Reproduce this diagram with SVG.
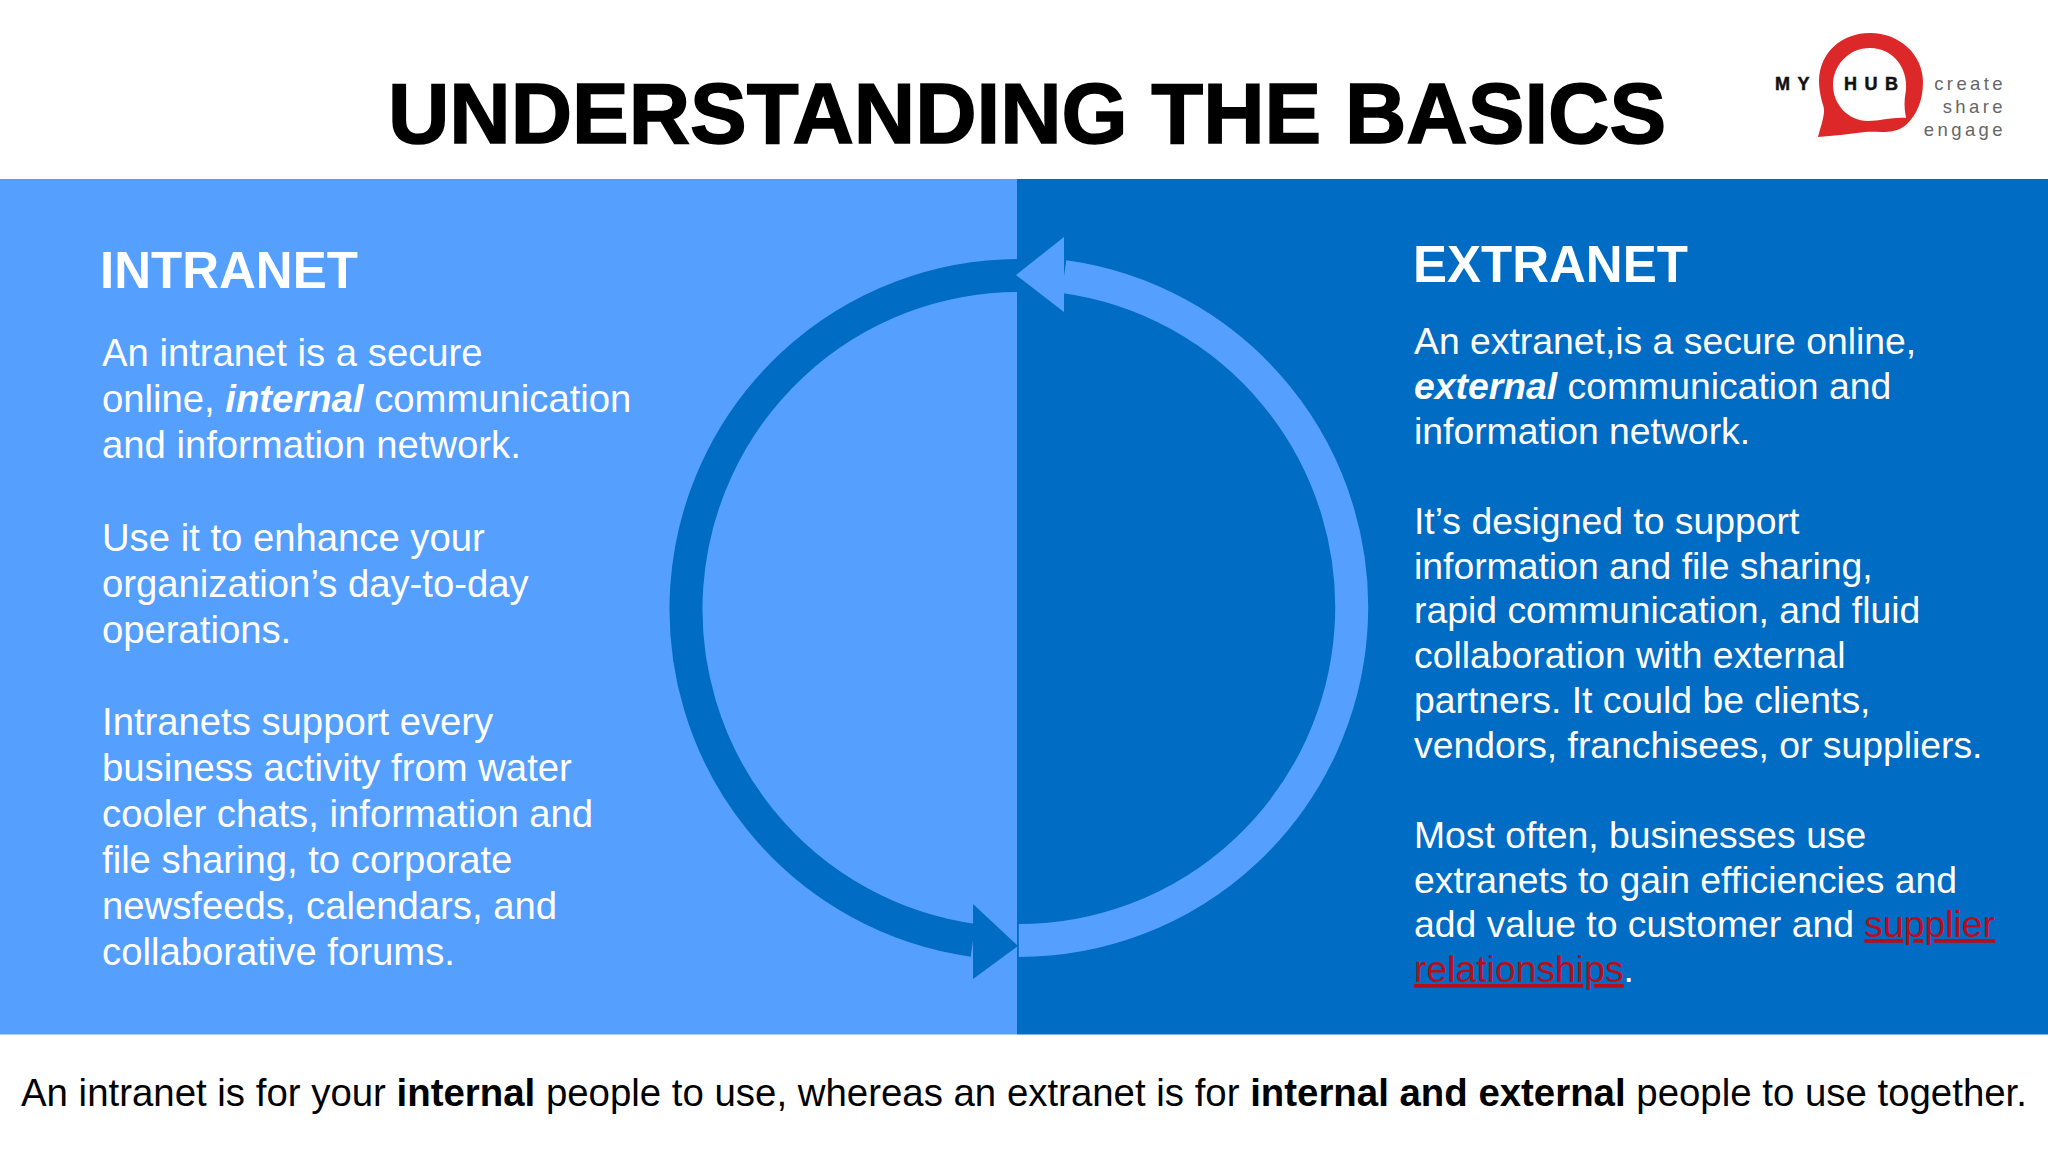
<svg xmlns="http://www.w3.org/2000/svg" width="2048" height="1152" viewBox="0 0 2048 1152">
<style>
text{font-family:"Liberation Sans",Arial,sans-serif}
.l{font-size:38.25px;fill:#fff}
.r{font-size:37.35px;fill:#fff}
.h{font-size:51px;font-weight:700;fill:#fff}
.f{font-size:38.4px;fill:#000}
.logo{font-size:18.5px;fill:#666;letter-spacing:3.4px;text-anchor:end}
.my{font-size:18px;font-weight:700;fill:#111;stroke:#111;stroke-width:.5px;letter-spacing:7.5px}
.em{font-weight:700;font-style:italic}
.link{fill:#b80d1a;text-decoration:underline}
</style>
<rect width="2048" height="1152" fill="#fff"/>
<rect id="panel-left" x="0" y="179" width="1017" height="855.500" fill="#559fff"/>
<rect id="panel-right" x="1017" y="179" width="1031" height="855.500" fill="#006cc4"/>
<text id="title" x="1027" y="143" font-size="85" font-weight="700" text-anchor="middle" fill="#000" stroke="#000" stroke-width="1.500">UNDERSTANDING THE BASICS</text>
<g id="connectors">
<path d="M1018.800 275.500A333 334 0 0 0 973 940.300" fill="none" stroke="#006cc4" stroke-width="33"/>
<path d="M973 904L1018 946L973 979Z" fill="#006cc4"/>
<path d="M1018.800 940.500A333 333.500 0 0 0 1064 276.600" fill="none" stroke="#559fff" stroke-width="33"/>
<path d="M1064 237L1016 275L1064 312Z" fill="#559fff"/>
</g>
<g id="intranet">
<text class="h" x="100" y="288">INTRANET</text>
<text class="l" x="102" y="366">An intranet is a secure</text>
<text class="l" x="102" y="412">online, <tspan class="em">internal</tspan> communication</text>
<text class="l" x="102" y="458">and information network.</text>
<text class="l" x="102" y="550.500">Use it to enhance your</text>
<text class="l" x="102" y="596.500">organization’s day-to-day</text>
<text class="l" x="102" y="642.500">operations.</text>
<text class="l" x="102" y="734.500">Intranets support every</text>
<text class="l" x="102" y="780.500">business activity from water</text>
<text class="l" x="102" y="826.500">cooler chats, information and</text>
<text class="l" x="102" y="872.500">file sharing, to corporate</text>
<text class="l" x="102" y="918.500">newsfeeds, calendars, and</text>
<text class="l" x="102" y="964.500">collaborative forums.</text>
</g>
<g id="extranet">
<text class="h" x="1413" y="282">EXTRANET</text>
<text class="r" x="1414" y="354">An extranet,is a secure online,</text>
<text class="r" x="1414" y="399"><tspan class="em">external</tspan> communication and</text>
<text class="r" x="1414" y="444">information network.</text>
<text class="r" x="1414" y="534">It’s designed to support</text>
<text class="r" x="1414" y="578.500">information and file sharing,</text>
<text class="r" x="1414" y="623">rapid communication, and fluid</text>
<text class="r" x="1414" y="668">collaboration with external</text>
<text class="r" x="1414" y="713">partners. It could be clients,</text>
<text class="r" x="1414" y="757.500">vendors, franchisees, or suppliers.</text>
<text class="r" x="1414" y="847.500">Most often, businesses use</text>
<text class="r" x="1414" y="892.500">extranets to gain efficiencies and</text>
<text class="r" x="1414" y="937">add value to customer and <tspan class="link">supplier</tspan></text>
<text class="r" x="1414" y="982"><tspan class="link">relationships</tspan>.</text>
</g>
<text id="footer" class="f" x="21" y="1106">An intranet is for your <tspan font-weight="700">internal</tspan> people to use, whereas an extranet is for <tspan font-weight="700">internal and external</tspan> people to use together.</text>
<g id="logo">
<path fill-rule="evenodd" fill="#dc2828" d="M1818 137C1822 122 1826 112 1823 105C1820 95 1819 87 1819 80C1820 52 1842 33 1870 33C1900 33 1923 55 1923 82C1923 100 1917 115 1906 125C1893 135 1880 131 1865 132C1848 134 1833 136 1818 137ZM1906 118C1904 108 1904 100 1906 90C1908 68 1893 48 1870 48C1848 48 1833 66 1833 85C1833 104 1848 121 1868 121C1880 121 1893 117 1906 118Z"/>
<text class="my" x="1775" y="90">MY</text>
<text class="my" x="1844" y="90">HUB</text>
<text class="logo" x="2006" y="90">create</text>
<text class="logo" x="2006" y="113">share</text>
<text class="logo" x="2006" y="135.500">engage</text>
</g>
</svg>
